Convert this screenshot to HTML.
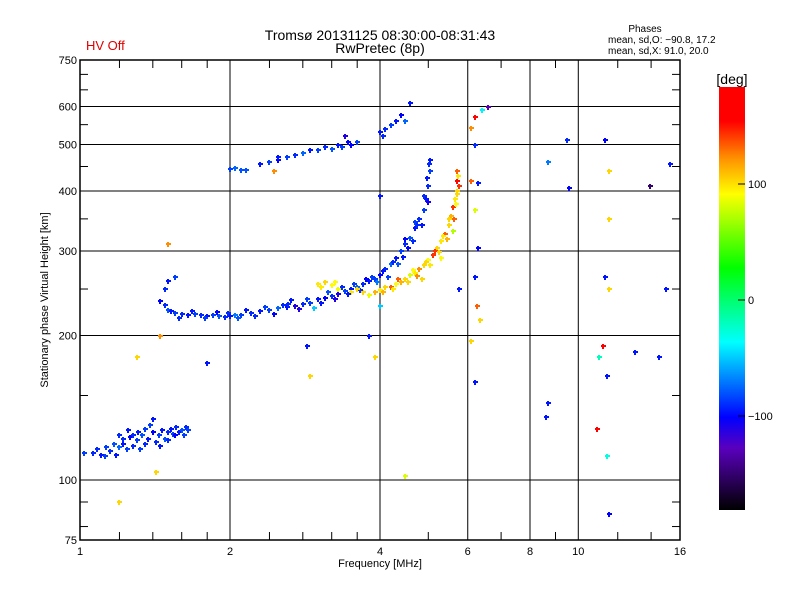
<!DOCTYPE html>
<html><head><meta charset="utf-8"><style>
body{margin:0;background:#fff;}
svg text{font-family:"Liberation Sans",sans-serif;fill:#000;}
</style></head><body>
<svg id="chart" width="800" height="600" xmlns="http://www.w3.org/2000/svg">
<defs><linearGradient id="cbg" x1="0" y1="1" x2="0" y2="0">
<stop offset="0" stop-color="#000"/><stop offset="0.147" stop-color="rgb(90,0,190)"/><stop offset="0.219" stop-color="#0000ff"/><stop offset="0.397" stop-color="#00ffff"/><stop offset="0.572" stop-color="#00ff00"/><stop offset="0.747" stop-color="#ffff00"/><stop offset="0.828" stop-color="rgb(255,150,0)"/><stop offset="0.919" stop-color="#ff0000"/><stop offset="1" stop-color="#ff0000"/></linearGradient></defs>
<g id="grid"></g><g id="pts" shape-rendering="crispEdges"></g><g id="axes"></g>
<text x="86" y="50" font-size="13" style="fill:#e00000">HV Off</text>
<text x="380" y="40" font-size="14" text-anchor="middle">Tromsø 20131125 08:30:00-08:31:43</text>
<text x="380" y="53" font-size="14" text-anchor="middle">RwPretec (8p)</text>
<text x="645" y="32" font-size="10" text-anchor="middle">Phases</text>
<text x="608" y="43" font-size="10">mean, sd,O: −90.8, 17.2</text>
<text x="608" y="54" font-size="10">mean, sd,X:  91.0, 20.0</text>
<text x="380" y="567" font-size="11" text-anchor="middle">Frequency [MHz]</text>
<text transform="translate(48,300) rotate(-90)" font-size="11" text-anchor="middle">Stationary phase Virtual Height [km]</text>
<rect x="719" y="87" width="26" height="423" fill="url(#cbg)"/>
<text x="732" y="84" font-size="14" text-anchor="middle">[deg]</text>
<g id="cb"></g>
</svg>
<script>
const xTicks=[1,2,4,6,8,10,16];
const yTicks=[75,100,200,300,400,500,600,750];
const xMinor=[1.2,1.4,1.6,1.8,2.4,2.8,3.2,3.6,5,7,9,12,14];
const yMinor=[80,90,150,250,350,450,550,650,700];
const cbTicks=[100,0,-100];
const freqs=[1.02,1.06,1.1,1.13,1.15,1.17,1.2,1.22,1.24,1.26,1.28,1.3,1.31,1.33,1.35,1.37,1.38,1.4,1.42,1.44,1.46,1.48,1.5,1.52,1.54,1.56,1.58,1.6,1.63,1.65,1.2,1.25,1.32,1.4,
1.45,1.48,1.5,1.52,1.55,1.6,1.65,1.7,1.75,1.8,1.85,1.9,1.95,2.0,2.05,2.1,2.2,2.3,2.4,2.5,2.55,2.6,2.7,2.8,2.9,3.0,3.1,3.2,3.3,3.4,3.5,3.6,3.7,3.8,3.9,4.0,4.1,4.2,4.3,4.4,4.5,4.6,4.7,4.8,4.9,4.95,5.0,5.05,5.05,4.55,4.75,3.85,2.95,2.65,1.5,1.55,1.48,
3.0,3.1,3.2,3.3,3.5,3.7,3.9,4.0,4.1,4.2,4.3,4.4,4.5,4.6,4.7,4.8,4.9,5.0,5.1,5.2,5.3,5.4,5.5,5.55,5.6,5.65,5.7,5.72,5.7,5.3,4.85,5.6,
2.0,2.05,2.15,2.3,2.4,2.5,2.6,2.8,2.9,3.0,3.1,3.2,3.3,3.45,3.6,4.0,4.1,4.2,4.4,4.6,4.5,2.45,
6.2,6.4,6.6,6.1,6.2,6.1,6.3,6.2,6.3,6.2,6.25,6.35,6.1,6.2,9.5,11.3,8.7,9.6,11.5,11.5,11.3,11.5,11.2,11.4,11.0,10.9,11.4,11.5,8.7,8.6,13.0,14.5,15,15.3,13.9,3.9,4.5,4.0,4.0,1.2,1.42,1.5,1.45,1.3,1.8,2.85,2.9,3.8,3.4,5.75,
1.58,1.68,1.78,1.88,1.98,2.08,2.15,2.25,2.35,2.45,2.62,2.75,2.85,3.05,3.15,3.25,3.35,3.45,3.55,3.65,3.75,3.95,4.05,4.15,4.25,4.35,4.45,4.5,4.65,4.7,4.85,4.9,5.0,4.98,5.02,
3.05,3.25,3.6,3.8,4.05,4.25,4.35,4.55,4.65,4.75,4.95,5.05,5.15,5.25,5.35,5.45,5.5,5.62,5.68,5.72,5.75,5.73,
1.08,1.12,1.18,1.28,1.35,1.45,1.5,1.55,1.62,1.22,
2.1,2.5,2.7,3.35,3.5,4.3,4.05];
const heights=[114,114,113,117,115,119,124,119,116,123,118,121,126,124,119,122,130,126,120,124,127,122,126,128,125,129,126,127,129,127,117,127,116,134,
236,232,226,225,223,222,221,222,221,220,221,220,219,220,221,221,223,225,226,228,231,229,230,233,234,238,240,242,244,248,250,253,256,260,262,268,275,282,290,300,310,320,335,350,365,385,410,440,465,305,340,265,228,237,260,265,250,
256,258,255,250,247,246,247,249,252,253,256,258,262,268,270,275,280,288,295,305,315,325,340,355,370,385,400,420,440,290,262,330,
445,447,442,455,460,465,472,480,486,488,495,490,500,505,507,530,538,548,575,610,560,440,
570,590,600,540,500,420,415,365,305,265,230,215,195,160,510,510,460,405,440,350,265,250,190,165,180,128,112,85,145,135,185,180,250,455,410,180,102,230,390,90,104,310,200,180,175,190,165,200,520,250,
218,225,218,224,223,218,226,220,229,222,233,227,238,234,246,238,252,244,256,249,262,258,272,265,285,282,292,318,315,345,340,390,380,425,455,
252,258,250,243,246,250,262,258,274,266,285,280,300,298,322,318,350,350,375,395,410,430,
116,112,113,124,128,118,121,124,124,122,
443,470,475,495,500,560,520];
const phases=[-85,-90,-95,-85,-90,-80,-90,-95,-85,-100,-90,-85,-95,-80,-90,-95,-85,-100,-90,-85,-95,-80,-90,-95,-85,-90,-95,-80,-90,-85,-75,-95,-85,-95,
-100,-90,-80,-95,-85,-90,-95,-85,-90,-95,-85,-80,-90,-95,-70,-85,-90,-95,-85,-75,-90,-95,-110,-90,-85,-95,-100,-90,-110,-85,-95,-75,-90,-95,-85,-100,-90,-75,-95,-85,-90,-80,-95,-90,-85,-95,-90,-85,-95,-100,-90,-85,-50,-95,-95,-85,-90,
95,100,90,85,95,100,110,95,100,130,90,110,100,80,95,120,100,90,140,100,95,130,100,110,140,95,100,150,130,90,100,70,
-85,-75,-80,-95,-85,-100,-85,-75,-95,-85,-90,-80,-95,-100,-85,-95,-90,-85,-100,-95,-75,120,
150,-40,-130,120,-90,130,-95,80,-100,-95,130,100,100,-95,-90,-100,-70,-100,100,100,-95,100,160,-95,-20,170,-30,-100,-95,-95,-95,-95,-95,-95,-150,100,80,-50,-95,100,100,120,120,100,-95,-95,100,-95,-110,-95,
-90,-95,-85,-100,-90,-80,-95,-90,-85,-100,-90,-110,-85,-95,-80,-110,-90,-95,-85,-90,-100,-70,-95,-85,-90,-80,-95,-100,-90,-85,-95,-90,-105,-95,-90,
95,90,100,85,110,95,130,100,90,120,100,95,140,100,95,110,100,130,90,100,140,95,
-90,-85,-95,-90,-85,-95,-90,-100,-85,-90,
-80,-95,-90,-85,-100,-95,-90];

const L=80,R=680,T=60,B=540;
const xs=f=>L+150*Math.log2(f);
const ys=h=>B-480*Math.log10(h/75);
const stops=[[-180,0,0,0],[-127,90,0,190],[-100,0,0,255],[-37,0,255,255],[26,0,255,0],[89,255,255,0],[118,255,150,0],[151,255,0,0],[180,255,0,0]];
function col(v){for(let i=1;i<stops.length;i++){if(v<=stops[i][0]){const a=stops[i-1],b=stops[i],t=(v-a[0])/(b[0]-a[0]);return `rgb(${[1,2,3].map(k=>Math.round(a[k]+t*(b[k]-a[k]))).join(',')})`;}}return 'rgb(255,0,0)';}
const NS='http://www.w3.org/2000/svg';
function mk(tag,attrs,parent){const e=document.createElementNS(NS,tag);for(const k in attrs)e.setAttribute(k,attrs[k]);document.getElementById(parent).appendChild(e);return e;}
xTicks.slice(1,-1).forEach(f=>{const e=mk('line',{x1:xs(f),x2:xs(f),y1:T,y2:B,stroke:'#000','stroke-width':1},'grid');

});
yTicks.slice(1,-1).forEach(h=>{const e=mk('line',{x1:L,x2:R,y1:ys(h),y2:ys(h),stroke:'#000','stroke-width':1},'grid');

});
freqs.forEach((f,i)=>{const x=Math.round(xs(f)),y=Math.round(ys(heights[i])),c=col(phases[i]);
const p=mk('path',{d:`M${x-2},${y-1}h5v2h-5zM${x-1},${y-2}h2v5h-2z`,fill:c},'pts');

});
const fr=mk('rect',{x:L,y:T,width:R-L,height:B-T,fill:'none',stroke:'#000','stroke-width':1.5},'axes');


xMinor.forEach(f=>{const x=xs(f);mk('line',{x1:x,x2:x,y1:B,y2:B-8,stroke:'#000'},'axes');mk('line',{x1:x,x2:x,y1:T,y2:T+8,stroke:'#000'},'axes');});
yMinor.forEach(h=>{const y=ys(h);mk('line',{x1:L,x2:L+8,y1:y,y2:y,stroke:'#000'},'axes');mk('line',{x1:R,x2:R-8,y1:y,y2:y,stroke:'#000'},'axes');});
xTicks.forEach(f=>{const t=mk('text',{x:xs(f),y:B+15,'font-size':11,'text-anchor':'middle'},'axes');t.textContent=f;

});
yTicks.forEach(h=>{const t=mk('text',{x:L-3,y:ys(h)+4,'font-size':11,'text-anchor':'end'},'axes');t.textContent=h;

});
cbTicks.forEach(v=>{const y=300-1.16*v;mk('line',{x1:738,x2:745,y1:y,y2:y,stroke:'#000'},'cb');
const t=mk('text',{x:748,y:y+4,'font-size':11},'cb');t.textContent=v<0?'−'+(-v):v;

});
</script>
</body></html>
